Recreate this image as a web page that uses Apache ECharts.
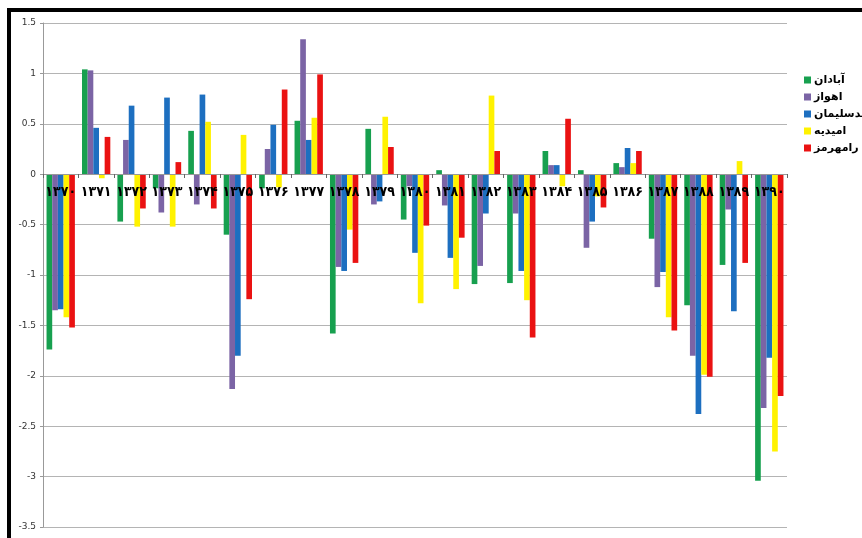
<!DOCTYPE html>
<html>
<head>
<meta charset="utf-8">
<script src="https://cdn.jsdelivr.net/npm/echarts@6/dist/echarts.min.js"></script>
<style>
html,body{margin:0;padding:0;background:#fff;}
#chart{width:862px;height:538px;position:relative;}
#frame{position:absolute;left:7px;top:8px;width:900px;height:600px;border-left:4px solid #000;border-top:4px solid #000;pointer-events:none;z-index:5;}
</style>
</head>
<body>
<div id="chart"></div>
<div id="frame"></div>
<script>
var categories = ['۱۳۷۰','۱۳۷۱','۱۳۷۲','۱۳۷۳','۱۳۷۴','۱۳۷۵','۱۳۷۶','۱۳۷۷','۱۳۷۸','۱۳۷۹','۱۳۸۰','۱۳۸۱','۱۳۸۲','۱۳۸۳','۱۳۸۴','۱۳۸۵','۱۳۸۶','۱۳۸۷','۱۳۸۸','۱۳۸۹','۱۳۹۰'];
var seriesNames = ['آبادان','اهواز','مسجدسلیمان','امیدیه','رامهرمز'];
var abadan      = [-1.74, 1.04,-0.47,-0.14, 0.43,-0.60,-0.14, 0.53,-1.58, 0.45,-0.45, 0.04,-1.09,-1.08, 0.23, 0.04, 0.11,-0.64,-1.30,-0.90,-3.04];
var ahvaz       = [-1.35, 1.03, 0.34,-0.38,-0.30,-2.13, 0.25, 1.34,-0.92,-0.30,-0.12,-0.31,-0.91,-0.39, 0.09,-0.73, 0.07,-1.12,-1.80,-0.35,-2.32];
var masjed      = [-1.34, 0.46, 0.68, 0.76, 0.79,-1.80, 0.49, 0.34,-0.96,-0.27,-0.78,-0.83,-0.39,-0.96, 0.09,-0.47, 0.26,-0.97,-2.38,-1.36,-1.82];
var omidiyeh    = [-1.42,-0.04,-0.52,-0.52, 0.52, 0.39,-0.13, 0.56,-0.55, 0.57,-1.28,-1.14, 0.78,-1.25,-0.12,-0.22, 0.11,-1.42,-1.99, 0.13,-2.75];
var ramhormoz   = [-1.52, 0.37,-0.34, 0.12,-0.34,-1.24, 0.84, 0.99,-0.88, 0.27,-0.51,-0.63, 0.23,-1.62, 0.55,-0.33, 0.23,-1.55,-2.01,-0.88,-2.20];
var colors = ['#17a04f','#7b64a5','#1d6fc0','#fff200','#ea1212'];
var seriesData = [abadan, ahvaz, masjed, omidiyeh, ramhormoz];

var yMin = -3.5, yMax = 1.5;
var gridTop = 23, gridBottom = 11, chartH = 538;
var plotH = chartH - gridTop - gridBottom;
var zeroOffset = -Math.round(plotH * (0 - yMin) / (yMax - yMin));

var chart = echarts.init(document.getElementById('chart'));
chart.setOption({
  animation: false,
  color: colors,
  grid: {left: 43, right: 75, top: gridTop, bottom: gridBottom, containLabel: false},
  legend: {
    orient: 'vertical', left: 799, top: 69,
    itemWidth: 7, itemHeight: 7, itemGap: 5,
    icon: 'rect',
    textStyle: {fontFamily: 'DejaVu Sans', fontWeight: 'bold', fontSize: 11, lineHeight: 12, color: '#000', padding: [0,0,0,-2]},
    data: seriesNames
  },
  xAxis: {
    type: 'category', data: categories, z: 4,
    position: 'bottom', offset: zeroOffset,
    axisLine: {onZero: false, lineStyle: {color: '#999', width: 1}},
    axisTick: {show: true, length: 4, lineStyle: {color: '#666'}},
    axisLabel: {fontFamily: '"DejaVu Sans Condensed", "DejaVu Sans"', fontWeight: 'bold', fontSize: 14, color: '#000', margin: 11, interval: 0}
  },
  yAxis: {
    type: 'value', min: yMin, max: yMax, interval: 0.5,
    axisLine: {show: true, lineStyle: {color: '#999'}},
    axisTick: {show: true, length: 3, lineStyle: {color: '#999'}},
    axisLabel: {fontFamily: 'DejaVu Sans', fontSize: 9, color: '#333', margin: 7},
    splitLine: {lineStyle: {color: '#b4b4b4', width: 1}}
  },
  series: seriesData.map(function(d, i){
    return {name: seriesNames[i], type: 'bar', data: d, barGap: '0%', barCategoryGap: '20%', itemStyle: {color: colors[i]}};
  })
});
</script>
</body>
</html>
